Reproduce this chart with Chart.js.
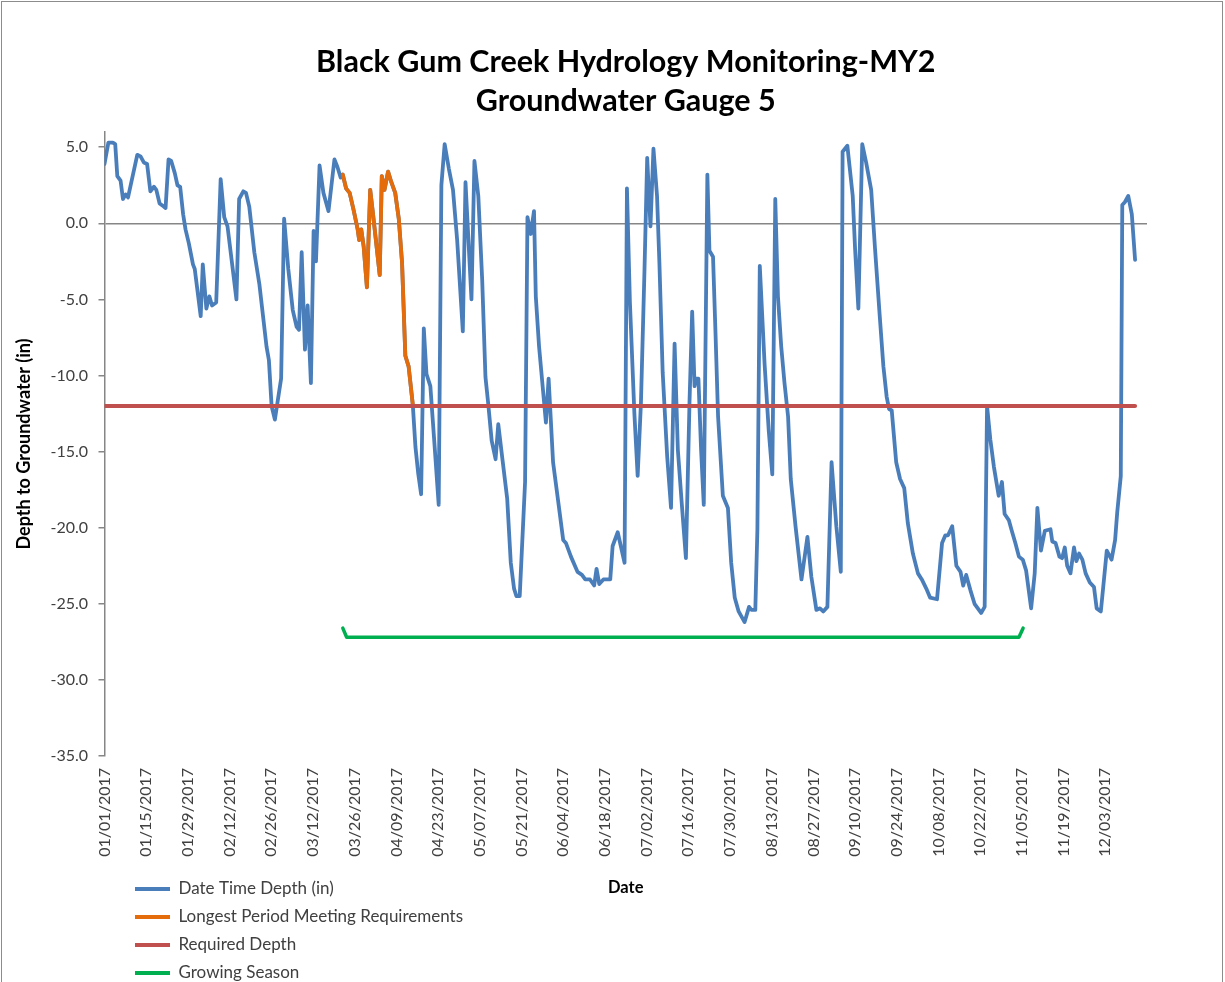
<!DOCTYPE html>
<html>
<head>
<meta charset="utf-8">
<script src="https://cdn.jsdelivr.net/npm/chart.js@4.4.0/dist/chart.umd.min.js"></script>
<style>
html, body { margin: 0; padding: 0; background: #ffffff; }
#wrap { position: relative; width: 1225px; height: 982px; overflow: hidden; }
canvas { display: block; }
</style>
</head>
<body>
<div id="wrap"><canvas id="c" width="1225" height="982"></canvas></div>
<script>
// ---------- DATA ----------
const chartTitle = ['Black Gum Creek Hydrology Monitoring-MY2', 'Groundwater Gauge 5'];
const xAxisTitle = 'Date';
const yAxisTitle = 'Depth to Groundwater (in)';
const seriesNames = ['Date Time Depth (in)', 'Longest Period Meeting Requirements', 'Required Depth', 'Growing Season'];

const xTickLabels = ['01/01/2017','01/15/2017','01/29/2017','02/12/2017','02/26/2017','03/12/2017','03/26/2017',
  '04/09/2017','04/23/2017','05/07/2017','05/21/2017','06/04/2017','06/18/2017','07/02/2017','07/16/2017',
  '07/30/2017','08/13/2017','08/27/2017','09/10/2017','09/24/2017','10/08/2017','10/22/2017','11/05/2017',
  '11/19/2017','12/03/2017'];
const yTickValues = [-35, -30, -25, -20, -15, -10, -5, 0, 5];

// days since 01/01/2017 and depth in inches
const depthDay = [0,1.3,2.8,3.6,4.3,5.4,6.2,7.1,7.9,11.0,12.1,13.2,14.3,15.4,16.6,17.4,18.5,19.9,20.5,21.5,22.4,23.6,24.5,25.4,26.4,27.2,28.3,29.7,30.3,32.3,33.0,34.2,35.2,36.1,37.5,39.0,40.2,41.3,44.3,45.2,46.6,47.5,48.6,50.3,52.0,54.4,55.2,56.1,57.2,59.3,60.3,
  61.7,63.2,64.5,65.3,66.2,67.3,68.2,69.3,70.2,71.0,72.2,73.5,75.2,77.2,78.2,79.3,
  80.0,81.1,82.3,83.6,85.0,85.5,86.2,87.0,88.1,89.2,90.1,92.4,93.1,94.0,95.2,96.3,97.6,98.8,99.9,101.0,102.1,103.5,
  104.4,105.3,106.3,107.2,108.1,109.4,110.6,112.2,113.1,114.2,115.6,117.0,118.4,120.3,121.2,
  123.2,124.2,125.5,126.8,127.9,128.8,130.0,131.3,132.2,133.6,135.2,136.4,137.5,138.3,139.4,141.2,142.0,143.1,144.2,144.8,145.9,148.2,149.1,150.6,152.4,154.0,154.9,156.6,158.8,160.3,161.4,163.0,164.4,165.2,166.1,167.5,169.8,170.6,172.3,174.6,175.4,176.4,177.9,179.0,180.1,181.3,182.2,183.3,184.3,
  185.5,186.3,187.4,188.9,190.2,191.4,192.5,193.8,195.2,196.4,197.3,198.1,198.6,199.4,200.3,201.2,202.4,203.1,204.3,205.1,206.0,207.6,209.3,210.4,211.6,212.9,214.9,216.4,217.2,218.5,219.2,220.0,221.6,223.0,224.2,225.2,226.1,227.2,228.3,229.5,230.4,232.0,234.0,236.0,237.3,239.0,240.2,241.3,242.7,244.1,245.7,247.2,
  247.8,249.4,251.2,252.0,253.1,254.4,255.7,257.4,258.7,260.2,261.5,262.6,263.4,264.3,265.8,267.1,268.5,269.7,271.4,273.1,274.4,275.9,277.2,279.5,281.2,282.3,283.2,284.6,286.0,287.4,288.3,289.3,290.7,292.1,294.3,295.5,296.3,297.4,298.6,300.2,301.3,302.2,303.6,304.6,305.8,307.0,308.3,309.4,
  311.1,312.3,313.2,314.4,315.7,317.6,318.2,319.3,320.6,321.5,322.4,323.2,324.3,325.5,326.3,327.2,328.3,329.4,330.8,332.2,333.1,334.5,335.3,336.5,338.1,339.3,340.0,341.2,341.7,342.6,343.7,344.9,346.0];
const depthValue = [3.9,5.3,5.3,5.2,3.1,2.8,1.6,1.9,1.7,4.5,4.4,4.0,3.9,2.1,2.4,2.2,1.3,1.1,1.0,4.2,4.1,3.3,2.5,2.4,0.6,-0.4,-1.3,-2.7,-3.0,-6.1,-2.7,-5.6,-4.8,-5.4,-5.2,2.9,0.4,-0.2,-5.0,1.6,2.1,2.0,1.1,-1.9,-4.0,-8.1,-9.0,-12.0,-12.9,-10.2,0.3,
  -3.0,-5.7,-6.8,-7.0,-1.9,-8.3,-5.4,-10.5,-0.5,-2.5,3.8,2.0,0.8,4.2,3.7,3.0,
  3.2,2.3,2.0,0.9,-0.4,-1.1,-0.4,-1.5,-4.2,2.2,0.7,-3.4,3.1,2.2,3.4,2.7,2.0,0.3,-2.6,-8.7,-9.4,-11.9,
  -14.7,-16.4,-17.8,-6.9,-9.9,-10.7,-14.0,-18.5,2.5,5.2,3.6,2.2,-1.1,-7.1,2.7,
  -5.0,4.1,1.8,-3.7,-10.1,-11.8,-14.3,-15.5,-13.2,-15.5,-18.1,-22.3,-24.0,-24.5,-24.5,-17.0,0.4,-0.7,0.8,-4.8,-8.1,-13.1,-10.2,-15.7,-18.4,-20.8,-21.0,-21.9,-22.9,-23.1,-23.4,-23.4,-23.8,-22.7,-23.7,-23.4,-23.4,-21.2,-20.3,-22.3,2.3,-5.2,-12.5,-16.6,-11.8,-3.0,4.3,-0.2,4.9,
  1.8,-2.6,-9.8,-15.3,-18.7,-7.9,-14.9,-18.4,-22.0,-11.8,-5.8,-10.7,-10.2,-10.2,-14.9,-18.5,3.2,-1.8,-2.2,-7.0,-12.7,-17.9,-18.7,-22.3,-24.6,-25.5,-26.2,-25.2,-25.4,-25.4,-20.1,-2.8,-9.2,-13.6,-16.5,1.6,-4.8,-8.1,-10.5,-12.7,-16.8,-19.9,-23.4,-20.6,-23.2,-25.4,-25.3,-25.5,-25.2,-15.7,-19.9,-22.9,
  4.7,5.1,1.8,-1.7,-5.6,5.2,4.0,2.2,-1.7,-5.9,-9.4,-11.4,-12.2,-12.3,-15.7,-16.8,-17.4,-19.7,-21.7,-23.0,-23.4,-24.0,-24.6,-24.7,-21.0,-20.5,-20.5,-19.9,-22.5,-22.9,-23.8,-23.1,-24.1,-25.0,-25.6,-25.2,-12.0,-14.2,-16.0,-17.9,-17.0,-19.1,-19.5,-20.2,-21.0,-21.9,-22.1,-22.8,
  -25.3,-23.0,-18.7,-21.5,-20.2,-20.1,-20.9,-21.0,-21.9,-22.0,-21.3,-22.5,-23.0,-21.3,-22.2,-21.7,-22.1,-23.0,-23.6,-23.9,-25.3,-25.5,-23.9,-21.5,-22.1,-20.8,-19.0,-16.6,1.2,1.4,1.8,0.6,-2.4];

const longestDay = [80.0,81.1,82.3,83.6,85.0,85.5,86.2,87.0,88.1,89.2,90.1,92.4,93.1,94.0,95.2,96.3,97.6,98.8,99.9,101.0,102.1,103.5];
const longestValue = [3.2,2.3,2.0,0.9,-0.4,-1.1,-0.4,-1.5,-4.2,2.2,0.7,-3.4,3.1,2.2,3.4,2.7,2.0,0.3,-2.6,-8.7,-9.4,-11.9];

const requiredDay = [0, 346];
const requiredValue = [-12, -12];

const growingDay = [80.0, 81.3, 307.0, 308.4];
const growingValue = [-26.6, -27.2, -27.2, -26.6];

// ---------- HELPERS ----------
const dayOf = s => {
  const [m, d, y] = s.split('/').map(Number);
  return Math.round((Date.UTC(y, m - 1, d) - Date.UTC(2017, 0, 1)) / 86400000);
};
const xTickDays = xTickLabels.map(dayOf);
const pts = (xs, ys) => xs.map((x, i) => ({ x: x, y: ys[i] }));

const FONT = 'Lato';
const seriesColors = ['#4A7EBB', '#E46C0A', '#C0504D', '#00B050'];

const lineDs = (i, xs, ys, order, width) => ({
  label: seriesNames[i],
  data: pts(xs, ys),
  borderColor: seriesColors[i],
  backgroundColor: seriesColors[i],
  borderWidth: width,
  pointRadius: 0,
  pointHoverRadius: 0,
  tension: 0,
  fill: false,
  borderJoinStyle: 'round',
  borderCapStyle: 'round',
  order: order
});

// place legend below the plot as a vertical list (bottom-left)
const legendPlacer = {
  id: 'legendPlacer',
  beforeDraw(chart) {
    const lg = chart.legend;
    if (!lg) return;
    lg.left = 124; lg.right = 700; lg.width = 576;
    lg.top = 869.5; lg.bottom = 1000; lg.height = 130.5;
  },
  afterDraw(chart) {
    const ctx = chart.ctx;
    ctx.save();
    ctx.strokeStyle = '#8C8C8C';
    ctx.lineWidth = 1;
    ctx.strokeRect(1.5, 1.5, 1221, 1000);
    ctx.restore();
  }
};

new Chart(document.getElementById('c'), {
  type: 'line',
  data: {
    datasets: [
      lineDs(0, depthDay, depthValue, 4, 3.8),
      lineDs(1, longestDay, longestValue, 3, 3.8),
      lineDs(2, requiredDay, requiredValue, 2, 4),
      lineDs(3, growingDay, growingValue, 1, 3.5)
    ]
  },
  options: {
    responsive: false,
    animation: false,
    devicePixelRatio: 1,
    layout: { padding: { top: 0, left: 0, right: 78, bottom: 0 } },
    plugins: {
      title: {
        display: true,
        fullSize: false,
        text: chartTitle,
        color: '#000000',
        font: { family: FONT, size: 30.5, weight: 'bold', lineHeight: 39 / 30.5 },
        padding: { top: 42.5, bottom: 11.5 }
      },
      legend: {
        position: 'chartArea',
        align: 'start',
        labels: {
          boxWidth: 35,
          boxHeight: 4,
          padding: 11,
          font: { family: FONT, size: 17 },
          color: '#404040',
          generateLabels: chart => chart.data.datasets.map((ds, i) => ({
            text: ds.label,
            fillStyle: ds.borderColor,
            strokeStyle: ds.borderColor,
            lineWidth: 0,
            hidden: false,
            datasetIndex: i,
            fontColor: '#404040'
          }))
        }
      },
      tooltip: { enabled: false }
    },
    scales: {
      x: {
        type: 'linear',
        position: 'bottom',
        min: 0,
        max: 350,
        grid: { display: false, drawTicks: false },
        border: { display: false },
        afterBuildTicks: s => { s.ticks = xTickDays.map(v => ({ value: v })); },
        afterFit: s => { s.height = 226; },
        ticks: {
          autoSkip: false,
          maxRotation: 90,
          minRotation: 90,
          padding: 12,
          color: '#404040',
          font: { family: FONT, size: 16 },
          callback: (v, i) => xTickLabels[i]
        },
        title: {
          display: true,
          text: xAxisTitle,
          color: '#000000',
          font: { family: FONT, size: 16.5, weight: 'bold', lineHeight: 1.2 },
          padding: { top: 0, bottom: 84 }
        }
      },
      y: {
        type: 'linear',
        min: -35,
        max: 6,
        afterBuildTicks: s => { s.ticks = yTickValues.map(v => ({ value: v })); },
        afterFit: s => { s.width = 104.5; },
        grid: {
          color: c => (c.tick && c.tick.value === 0) ? '#868686' : 'rgba(0,0,0,0)',
          tickColor: '#868686',
          lineWidth: 1.5,
          tickLength: 6,
          drawTicks: true
        },
        border: { display: true, color: '#868686', width: 1.5 },
        ticks: {
          padding: 10.5,
          color: '#404040',
          font: { family: FONT, size: 16 },
          callback: v => Number(v).toFixed(1)
        },
        title: {
          display: true,
          text: yAxisTitle,
          color: '#000000',
          font: { family: FONT, size: 18, weight: 'bold', lineHeight: 1.2 },
          padding: { top: 13, bottom: 0 }
        }
      }
    }
  },
  plugins: [legendPlacer]
});
</script>
</body>
</html>
